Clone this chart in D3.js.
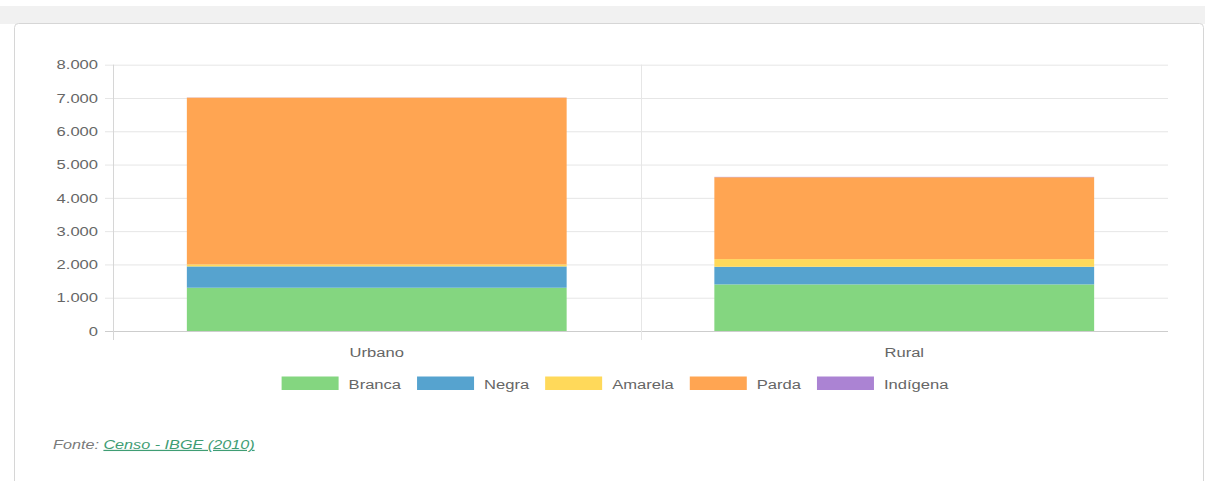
<!DOCTYPE html>
<html>
<head>
<meta charset="utf-8">
<script src="https://cdn.jsdelivr.net/npm/d3@7"></script>
<style>
  html, body { margin: 0; padding: 0; background: #fff; }
  svg { display: block; font-family: "Liberation Sans", Arial, Helvetica, sans-serif; }
</style>
</head>
<body>
<script>
// Data (população por cor/raça, situação do domicílio)
var categories = ['Urbano', 'Rural'];
var series = ['Branca', 'Negra', 'Amarela', 'Parda', 'Indígena'];
var colors = ['#84d680', '#56a3cf', '#ffd95a', '#ffa552', '#ab83d3'];
var branca = [1300, 1400];
var negra = [640, 530];
var amarela = [60, 230];
var parda = [5010, 2460];
var indigena = [5, 10];
var yTicks = [0, 1000, 2000, 3000, 4000, 5000, 6000, 7000, 8000];

var width = 1205, height = 481;
var sx = 1.38; // the screenshot is stretched sideways, text follows it

var rows = categories.map(function(c, i) {
  return { cat: c, 'Branca': branca[i], 'Negra': negra[i], 'Amarela': amarela[i], 'Parda': parda[i], 'Indígena': indigena[i] };
});

var ptBR = d3.formatLocale({ decimal: ',', thousands: '.', grouping: [3], currency: ['R$', ''] });
var fmt = ptBR.format(',d');

var svg = d3.select('body').append('svg')
  .attr('width', width)
  .attr('height', height);

// page background + card
svg.append('rect').attr('x', 0).attr('y', 6).attr('width', width).attr('height', 18).attr('fill', '#f1f1f1');
svg.append('rect')
  .attr('x', 14.5).attr('y', 23.5)
  .attr('width', 1189).attr('height', 480)
  .attr('rx', 4)
  .attr('fill', '#fff')
  .attr('stroke', '#d6d6d6');

var plotLeft = 113, plotRight = 1168, plotTop = 64.7, plotBottom = 331;

var y = d3.scaleLinear().domain([0, 8000]).range([plotBottom, plotTop]);
var x = d3.scaleBand().domain(categories).range([plotLeft, plotRight]).paddingInner(0).paddingOuter(0);
var barW = x.bandwidth() * 0.72;

// horizontal grid
var grid = svg.append('g')
  .attr('transform', 'translate(105,0)')
  .call(d3.axisRight(y).tickValues(yTicks).tickSize(plotRight - 105).tickFormat(''));
grid.select('.domain').remove();
grid.selectAll('line').attr('stroke', function(d) { return d === 0 ? '#cdcdcd' : '#e6e6e6'; });

// vertical grid at category boundaries
svg.append('g').selectAll('line')
  .data(categories)
  .join('line')
  .attr('x1', function(d) { return Math.round(x(d)) + 0.5; })
  .attr('x2', function(d) { return Math.round(x(d)) + 0.5; })
  .attr('y1', plotTop)
  .attr('y2', plotBottom + 9)
  .attr('stroke', function(d, i) { return i === 0 ? '#d6d6d6' : '#e6e6e6'; });

// y labels
var yAxis = svg.append('g')
  .attr('transform', 'translate(' + plotLeft + ',0)')
  .call(d3.axisLeft(y).tickValues(yTicks).tickSize(0).tickFormat(fmt));
yAxis.select('.domain').remove();
yAxis.selectAll('text')
  .attr('x', 0)
  .attr('dy', '0.35em')
  .attr('transform', 'translate(-15,0) scale(' + sx + ',1)')
  .attr('fill', '#666')
  .style('font-size', '12px');

// x labels
var xAxis = svg.append('g')
  .attr('transform', 'translate(0,' + plotBottom + ')')
  .call(d3.axisBottom(x).tickSize(0));
xAxis.select('.domain').remove();
xAxis.selectAll('text')
  .attr('y', 0)
  .attr('dy', 0)
  .attr('transform', 'translate(0,26) scale(' + sx + ',1)')
  .attr('fill', '#666')
  .style('font-size', '12px');

// stacked bars
var stacked = d3.stack().keys(series)(rows);
svg.append('g').selectAll('g')
  .data(stacked)
  .join('g')
  .attr('fill', function(d, i) { return colors[i]; })
  .selectAll('rect')
  .data(function(d) { return d; })
  .join('rect')
  .attr('x', function(d) { return x(d.data.cat) + (x.bandwidth() - barW) / 2; })
  .attr('width', barW)
  .attr('y', function(d) { return y(d[1]); })
  .attr('height', function(d) { return y(d[0]) - y(d[1]); });

// legend
var legend = svg.append('g');
var items = legend.selectAll('g')
  .data(series)
  .join('g');
items.append('rect')
  .attr('y', 376.5)
  .attr('width', 57)
  .attr('height', 13.5)
  .attr('fill', function(d, i) { return colors[i]; });
items.append('text')
  .attr('transform', 'translate(67,389) scale(' + sx + ',1)')
  .attr('fill', '#666')
  .style('font-size', '12px')
  .text(function(d) { return d; });

var pos = 0, offsets = [];
items.each(function() {
  var w = d3.select(this).select('text').node().getComputedTextLength() * sx;
  offsets.push(pos);
  pos += 67 + w + 16;
});
var total = pos - 16;
var start = 615 - total / 2;
items.attr('transform', function(d, i) { return 'translate(' + (start + offsets[i]) + ',0)'; });

// source
var src = svg.append('text')
  .attr('transform', 'translate(53,449) scale(1.35,1)')
  .style('font-size', '12px')
  .style('font-style', 'italic');
src.append('tspan').attr('fill', '#7a7a7a').text('Fonte: ');
src.append('tspan')
  .attr('fill', '#3f9d74')
  .style('text-decoration', 'underline')
  .text('Censo - IBGE (2010)');
</script>
</body>
</html>
